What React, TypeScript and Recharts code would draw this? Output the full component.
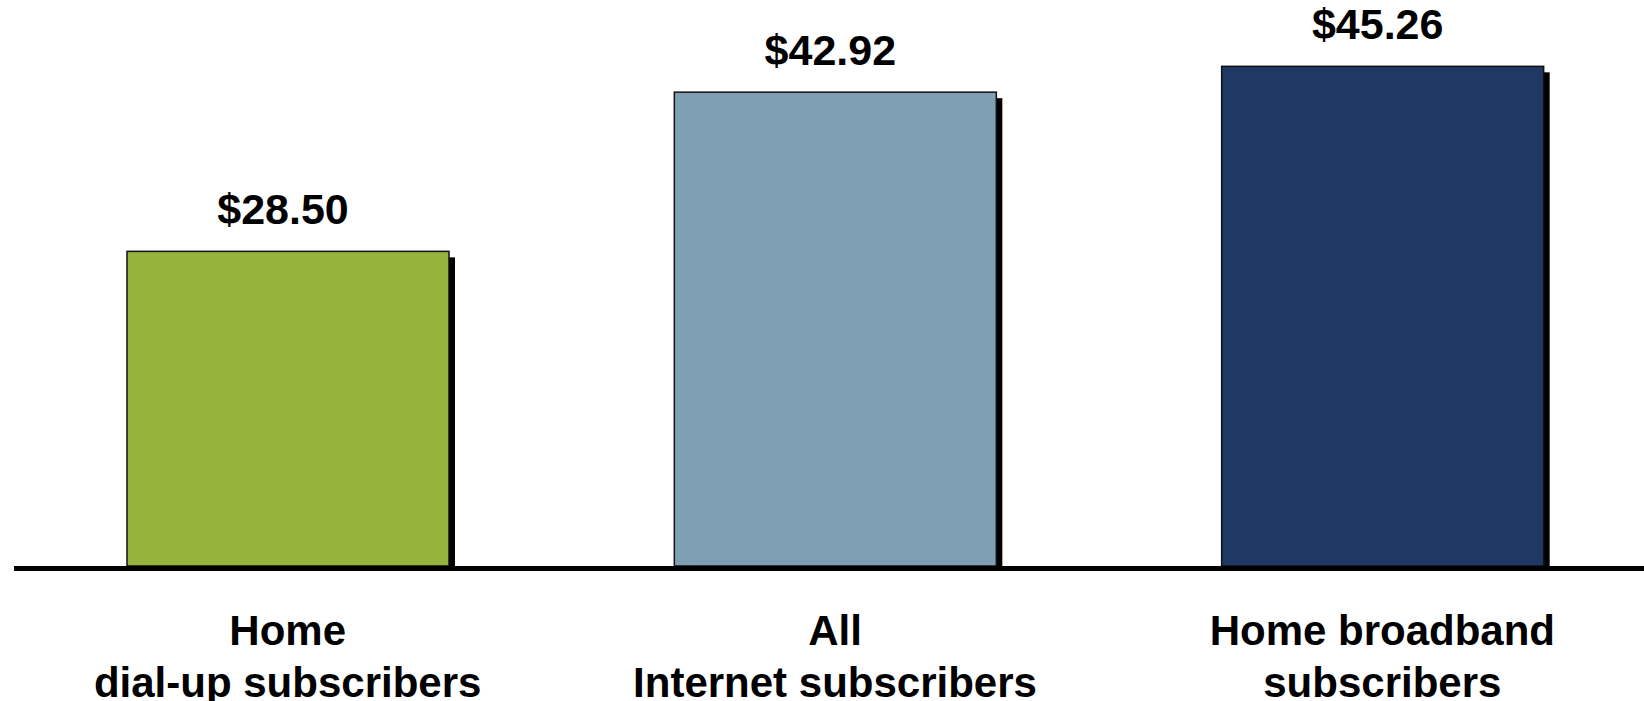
import { BarChart, Bar, XAxis, YAxis, LabelList, ReferenceLine } from 'recharts'

const categories = [
  ['Home', 'dial-up subscribers'],
  ['All', 'Internet subscribers'],
  ['Home broadband', 'subscribers'],
]
const values = [28.5, 42.92, 45.26]
const colors = ['#96B43C', '#7F9FB4', '#1F3864']

const FONT = '"Liberation Sans", Arial, Helvetica, sans-serif'

const data = categories.map((lines, i) => ({
  name: lines.join('\n'),
  value: values[i],
  fill: colors[i],
}))

function ShadowBar(props: any) {
  const { x, y, width, height, fill } = props
  return (
    <g>
      <rect x={x + 6} y={y + 6} width={width} height={Math.max(height - 4, 0)} fill="#000" />
      <rect x={x} y={y} width={width} height={height} fill={fill} stroke="#111" strokeWidth={1.5} />
    </g>
  )
}

function ValueLabel(props: any) {
  const { x, y, width, value } = props
  return (
    <text
      x={x + width / 2 - 5}
      y={y - 27}
      textAnchor="middle"
      fontSize={43}
      fontWeight="bold"
      fontFamily={FONT}
      fill="#000"
    >
      {'$' + Number(value).toFixed(2)}
    </text>
  )
}

function CategoryTick(props: any) {
  const { x, y, payload } = props
  const lines = String(payload.value).split('\n')
  return (
    <text textAnchor="middle" fontSize={42} fontWeight="bold" fontFamily={FONT} fill="#000">
      {lines.map((l, i) => (
        <tspan key={i} x={x} y={y + 79 + i * 52}>
          {l}
        </tspan>
      ))}
    </text>
  )
}

export default function App() {
  return (
    <div
      style={{
        position: 'absolute',
        top: 0,
        left: 0,
        width: 1644,
        height: 701,
        overflow: 'hidden',
        background: '#fff',
      }}
    >
      <BarChart
        width={1656}
        height={701}
        data={data}
        margin={{ top: 14, right: 0, left: 14, bottom: 0 }}
      >
        <YAxis hide domain={[0, 50]} />
        <XAxis
          dataKey="name"
          height={135}
          axisLine={false}
          tickLine={false}
          tickSize={0}
          tickMargin={0}
          interval={0}
          tick={<CategoryTick />}
        />
        <Bar dataKey="value" barSize={322} shape={<ShadowBar />} isAnimationActive={false}>
          <LabelList dataKey="value" content={<ValueLabel />} />
        </Bar>
        <ReferenceLine y={-0.22} ifOverflow="visible" stroke="#000" strokeWidth={5} />
      </BarChart>
    </div>
  )
}
